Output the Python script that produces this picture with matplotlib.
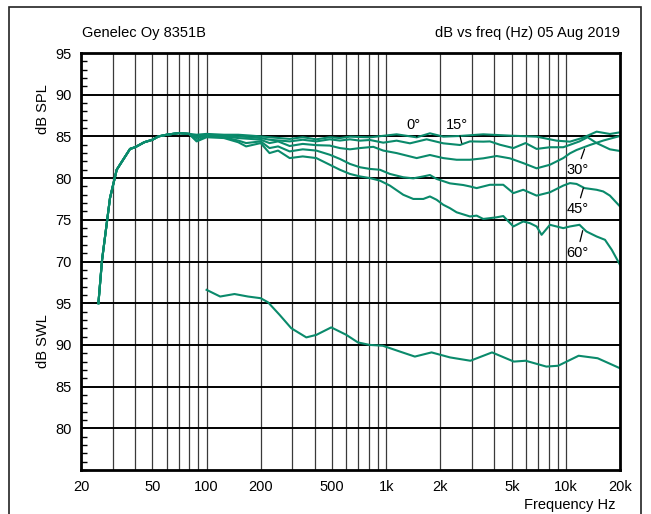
import matplotlib
matplotlib.use("Agg")
from matplotlib import pyplot as plt
from matplotlib.patches import Rectangle
from matplotlib.ticker import FixedLocator, MultipleLocator, NullFormatter

plt.rcParams['font.family'] = ['Liberation Sans', 'DejaVu Sans']

# low-frequency part, common to all angles (dB SPL)
lf_freq = [25, 26.2, 29, 31.6, 37.5, 40, 45, 50, 54, 60, 70, 80]
lf_db = [65.0, 70.2, 77.6, 81.0, 83.5, 83.7, 84.3, 84.6, 85.0, 85.2, 85.4, 85.3]

freq_0 = [88, 100, 125, 150, 175, 200, 224, 290, 343, 408, 485, 552, 628, 811,
          1142, 1477, 1750, 2077, 2570, 3467, 4879, 6869, 8873, 10530, 12480,
          14820, 17570, 20000]
db_0 = [85.2, 85.3, 85.2, 85.2, 85.1, 85.0, 84.9, 84.7, 84.9, 84.65, 84.9, 84.8,
        84.97, 84.89, 85.25, 84.89, 85.37, 84.97, 85.05, 85.25, 85.09, 84.97,
        84.49, 84.37, 84.85, 85.57, 85.29, 85.49]

freq_15 = [88, 100, 125, 150, 175, 200, 224, 290, 343, 408, 485, 552, 628, 714,
           811, 962, 1142, 1355, 1678, 2077, 2570, 2922, 3467, 3776, 4293, 5100,
           5960, 6869, 8149, 9665, 11900, 13200, 14820, 17570, 20000]
db_15 = [85.0, 85.2, 85.1, 85.0, 84.9, 84.8, 84.6, 84.4, 84.6, 84.4, 84.65, 84.5,
         84.65, 84.49, 84.57, 84.25, 84.49, 84.17, 84.65, 84.17, 83.97, 84.4,
         84.37, 84.4, 84.0, 83.6, 84.2, 83.5, 83.7, 83.7, 84.4, 84.9, 84.2,
         83.45, 83.25]

freq_30 = [88, 100, 125, 150, 175, 200, 224, 250, 290, 343, 408, 485, 552, 628,
           714, 847, 962, 1142, 1244, 1477, 1750, 2077, 2464, 2922, 3467, 4115,
           4879, 5785, 6869, 8149, 9665, 10530, 11460, 13600, 16130, 20000]
db_30 = [84.8, 85.1, 85.0, 84.8, 84.7, 84.6, 84.2, 84.4, 83.85, 84.1, 83.95, 83.9,
         83.6, 83.45, 83.6, 83.75, 83.3, 83.0, 82.8, 82.4, 82.77, 82.4, 82.2,
         82.2, 82.37, 82.65, 82.37, 81.8, 81.17, 81.6, 82.4, 82.97, 83.37,
         83.97, 84.5, 85.05]

freq_45 = [88, 100, 125, 150, 166, 200, 224, 250, 290, 343, 408, 485, 552, 628,
           714, 811, 922, 1048, 1244, 1414, 1608, 1750, 1907, 2260, 2683, 2922,
           3185, 3776, 4480, 5100, 5785, 6869, 8149, 9665, 10530, 11460, 12700,
           14820, 16130, 17570, 20000]
db_45 = [84.5, 85.0, 84.9, 84.5, 84.2, 84.4, 83.6, 83.8, 83.2, 83.45, 83.3, 82.8,
         82.3, 81.7, 81.3, 81.1, 81.0, 80.5, 80.1, 79.97, 80.2, 80.37, 79.9,
         79.37, 79.17, 79.0, 78.8, 79.2, 79.2, 78.2, 78.6, 77.9, 78.3, 79.1,
         79.4, 79.3, 78.8, 78.6, 78.4, 77.9, 76.6]

freq_60 = [88, 100, 125, 150, 166, 200, 224, 250, 290, 343, 408, 485, 552, 628,
           714, 811, 922, 1048, 1244, 1414, 1608, 1750, 1907, 2077, 2260, 2464,
           2922, 3185, 3467, 4115, 4480, 5100, 5785, 6300, 6869, 7325, 8149,
           9665, 10530, 11900, 13000, 14820, 16500, 18000, 20000]
db_60 = [84.4, 84.9, 84.8, 84.3, 83.8, 84.2, 83.0, 83.3, 82.4, 82.6, 82.4, 81.6,
         81.0, 80.5, 80.2, 80.0, 79.7, 79.1, 78.0, 77.5, 77.5, 77.8, 77.4, 76.8,
         76.4, 75.9, 75.4, 75.5, 75.1, 75.3, 75.45, 74.2, 74.8, 74.6, 74.2,
         73.2, 74.4, 74.0, 74.2, 74.4, 73.6, 73.0, 72.6, 71.4, 69.6]

# sound power, dB SWL (drawn 30 dB down on the same axis)
swl_freq = [100, 119, 143, 170, 200, 220, 255, 296, 359, 408, 494, 600, 695, 807,
            957, 1192, 1443, 1787, 2263, 2940, 3880, 5130, 5970, 7780, 9050,
            11770, 15020, 20000]
swl_db = [96.6, 95.8, 96.1, 95.8, 95.6, 95.1, 93.6, 92.0, 90.9, 91.2, 92.1, 91.2,
          90.3, 90.0, 89.9, 89.2, 88.6, 89.1, 88.5, 88.1, 89.1, 88.0, 88.1, 87.4,
          87.5, 88.7, 88.4, 87.2]
swl_offset = 30

ytick_pos = [50, 55, 60, 65, 70, 75, 80, 85, 90, 95]
ytick_lab = ['80', '85', '90', '95', '70', '75', '80', '85', '90', '95']
xtick_pos = [20, 50, 100, 200, 500, 1000, 2000, 5000, 10000, 20000]
xtick_lab = ['20', '50', '100', '200', '500', '1k', '2k', '5k', '10k', '20k']
xgrid_minor = [30, 40, 60, 70, 80, 90, 300, 400, 600, 700, 800, 900,
               3000, 4000, 6000, 7000, 8000, 9000]

labels = [('0°', 1408, 86.4, 1482, 84.95),
          ('15°', 2484, 86.4, 2630, 84.2),
          ('30°', 11560, 81.0, 12700, 83.5),
          ('45°', 11560, 76.3, 12500, 78.8),
          ('60°', 11560, 71.05, 12400, 73.7)]

green = '#0a8a6b'

fig = plt.figure(figsize=(6.51, 5.14), dpi=100)
ax = fig.add_axes([81/651, 1 - 470/514, (620 - 81)/651, (470 - 53)/514])

for fr, db in [(freq_0, db_0), (freq_15, db_15), (freq_30, db_30),
               (freq_45, db_45), (freq_60, db_60)]:
    ax.plot(lf_freq + fr, lf_db + db, color=green, lw=1.5)
ax.plot(swl_freq, [v - swl_offset for v in swl_db], color=green, lw=1.5)

ax.set_xscale('log')
ax.set_xlim(20, 20000)
ax.set_ylim(45, 95)

ax.xaxis.set_major_locator(FixedLocator(xtick_pos))
ax.set_xticklabels(xtick_lab)
ax.xaxis.set_minor_locator(FixedLocator(xgrid_minor))
ax.xaxis.set_minor_formatter(NullFormatter())
ax.grid(True, axis='x', which='both', color='#3a3a3a', lw=0.9)

ax.yaxis.set_major_locator(FixedLocator(ytick_pos))
ax.set_yticklabels(ytick_lab)
ax.yaxis.set_minor_locator(MultipleLocator(1))
ax.grid(True, axis='y', which='major', color='black', lw=1.4)
ax.set_axisbelow(True)

ax.tick_params(axis='both', which='major', length=0, labelsize=10.5)
ax.tick_params(axis='x', pad=7)
ax.tick_params(axis='y', pad=7)
ax.tick_params(axis='y', which='minor', direction='in', length=4, width=1)
ax.tick_params(axis='x', which='minor', length=0)
for s in ax.spines.values():
    s.set_linewidth(2)

for txt, tx, ty, px, py in labels:
    ax.annotate(txt, xy=(px, py), xytext=(tx, ty), ha='center', va='center',
                fontsize=10.5,
                arrowprops=dict(arrowstyle='-', color='black', lw=0.9,
                                shrinkA=1, shrinkB=0))

fig.text(82/651, 1 - 33/514, 'Genelec Oy 8351B', ha='left', va='center', fontsize=10.5)
fig.text(620/651, 1 - 33/514, 'dB vs freq (Hz) 05 Aug 2019', ha='right', va='center',
         fontsize=10.5)
fig.text(43/651, 1 - 109/514, 'dB SPL', rotation=90, ha='center', va='center',
         fontsize=10.5)
fig.text(43/651, 1 - 341/514, 'dB SWL', rotation=90, ha='center', va='center',
         fontsize=10.5)
fig.text(615/651, 1 - 505/514, 'Frequency Hz', ha='right', va='center', fontsize=10.5)

fig.patches.append(Rectangle((9/651, -0.1), (641 - 9)/651, 1.1 - 7/514,
                             transform=fig.transFigure, fill=False,
                             edgecolor='#222222', lw=1.2))

fig.savefig('out.png', dpi=100)
